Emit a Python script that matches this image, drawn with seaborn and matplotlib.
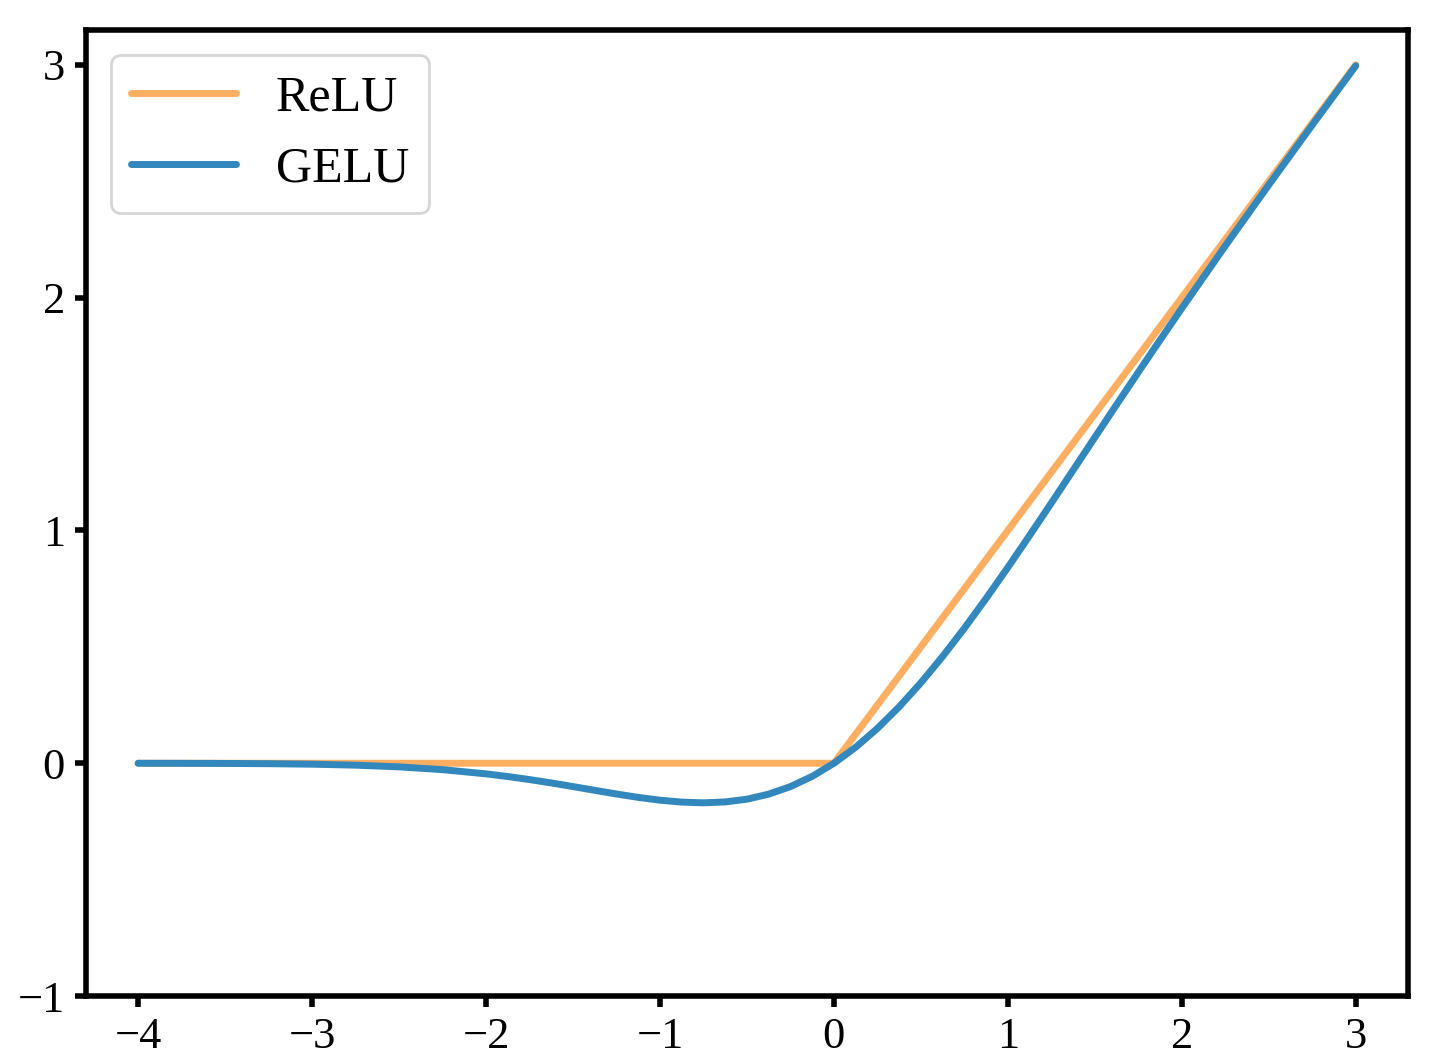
import pandas as pd
import seaborn as sns
import matplotlib.pyplot as plt

# values
gelu_x = [-4.0, -3.75, -3.5, -3.25, -3.0, -2.75, -2.5, -2.25, -2.0, -1.875,
          -1.75, -1.625, -1.5, -1.375, -1.25, -1.125, -1.0, -0.875, -0.75, -0.625,
          -0.5, -0.375, -0.25, -0.125, 0.0, 0.125, 0.25, 0.375, 0.5, 0.625,
          0.75, 0.875, 1.0, 1.125, 1.25, 1.375, 1.5, 1.625, 1.75, 1.875,
          2.0, 2.25, 2.5, 2.75, 3.0]
gelu_y = [-0.0001, -0.0003, -0.0008, -0.0019, -0.0040, -0.0082, -0.0155, -0.0275, -0.0455, -0.0570,
          -0.0701, -0.0846, -0.1002, -0.1163, -0.1321, -0.1466, -0.1587, -0.1669, -0.1700, -0.1662,
          -0.1543, -0.1327, -0.1003, -0.0563, 0.0, 0.0687, 0.1497, 0.2423, 0.3457, 0.4588,
          0.5800, 0.7081, 0.8413, 0.9784, 1.1179, 1.2587, 1.3998, 1.5404, 1.6799, 1.8180,
          1.9545, 2.2225, 2.4845, 2.7418, 2.9960]
relu_x = [-4.0, 0.0, 3.0]
relu_y = [0.0, 0.0, 3.0]

df = pd.concat([
    pd.DataFrame({"x": relu_x, "y": relu_y, "fn": "ReLU"}),
    pd.DataFrame({"x": gelu_x, "y": gelu_y, "fn": "GELU"}),
])

sns.set_theme(style="white")
plt.rcParams["font.family"] = ["Liberation Serif", "DejaVu Serif"]
plt.rcParams["text.color"] = "black"
plt.rcParams["axes.edgecolor"] = "black"
plt.rcParams["axes.linewidth"] = 2

fig = plt.figure(figsize=(7.235, 5.31), dpi=200)
ax = fig.add_axes([0.0594, 0.0621, 0.9136, 0.9097])

sns.lineplot(data=df, x="x", y="y", hue="fn", palette=["#fdae61", "#3288bd"],
             linewidth=2.5, sort=False, ax=ax)

ax.set_xlim(-4.3, 3.3)
ax.set_ylim(-1, 3.15)
ax.set_xticks([-4, -3, -2, -1, 0, 1, 2, 3])
ax.set_yticks([-1, 0, 1, 2, 3])
ax.set_xlabel("")
ax.set_ylabel("")
ax.tick_params(axis="both", direction="out", length=4, width=2, labelsize=16,
               bottom=True, left=True, colors="black")
for s in ax.spines.values():
    s.set_color("black")
    s.set_linewidth(2)

leg = ax.legend(loc="upper left", fontsize=18, handlelength=2.1, frameon=True)
leg.get_frame().set_edgecolor("#cccccc")
for t in leg.get_texts():
    t.set_color("black")
for line in leg.get_lines():
    line.set_linewidth(2.5)

fig.savefig("out.png", dpi=200)
